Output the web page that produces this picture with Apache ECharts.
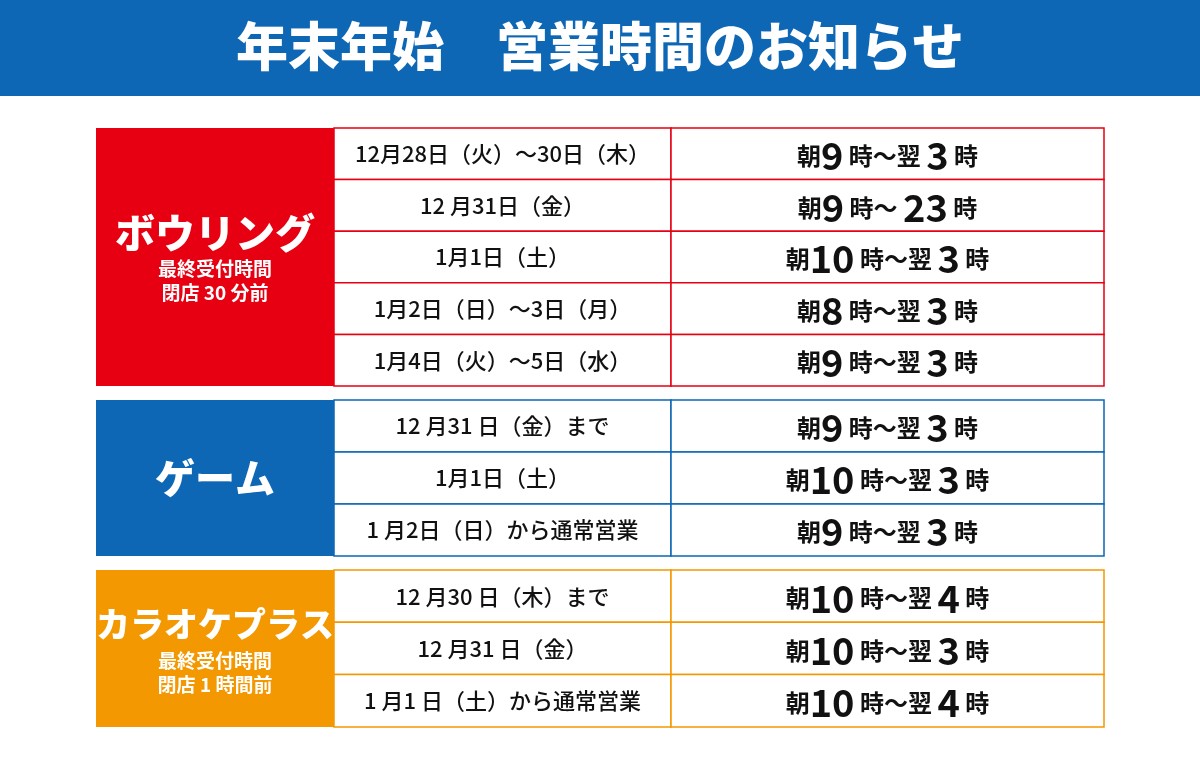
<!DOCTYPE html>
<html>
<head>
<meta charset="utf-8">
<script src="https://cdn.jsdelivr.net/npm/echarts@6/dist/echarts.min.js"></script>
<style>
  body { margin: 0; background: #fff; }
  #main { width: 1200px; height: 760px; }
</style>
</head>
<body>
<div id="main"></div>
<script>
var title = '年末年始　営業時間のお知らせ'
var sections = ['ボウリング', 'ゲーム', 'カラオケプラス']
var sectionNotes = [['最終受付時間', '閉店 30 分前'], [], ['最終受付時間', '閉店 1 時間前']]
var sectionColors = ['#e60012', '#0d67b5', '#f39800']
var dates = [
  ['12月28日（火）～30日（木）', '12 月31日（金）', '1月1日（土）', '1月2日（日）～3日（月）', '1月4日（火）～5日（水）'],
  ['12 月31 日（金）まで', '1月1日（土）', '1 月2日（日）から通常営業'],
  ['12 月30 日（木）まで', '12 月31 日（金）', '1 月1 日（土）から通常営業']
]
var openHours = [[9, 9, 10, 8, 9], [9, 10, 9], [10, 10, 10]]
var closeHours = [[3, 23, 3, 3, 3], [3, 3, 3], [4, 3, 4]]
var closeNextDay = [[true, false, true, true, true], [true, true, true], [true, true, true]]

var sectionTops = [128, 400, 570]
var rowH = [51.6, 52, 52.3]
var x0 = 96, x1 = 334, x2 = 671, x3 = 1104
var font = '"Noto Sans CJK JP", sans-serif'

function buildGraphic() {
  var g = []
  g.push({ type: 'rect', shape: { x: 0, y: 0, width: 1200, height: 96 }, style: { fill: '#0d67b5' } })
  g.push({ type: 'text', x: 600, y: 46, style: { text: title, fill: '#fff', font: '900 52px ' + font, align: 'center', verticalAlign: 'middle' } })

  for (var s = 0; s < sections.length; s++) {
    var sTop = sectionTops[s], n = dates[s].length, h = rowH[s] * n, c = sectionColors[s]
    g.push({ type: 'rect', shape: { x: x0, y: sTop, width: x1 - x0, height: h }, style: { fill: c } })
    var notes = sectionNotes[s]
    var cy = sTop + h / 2
    var big = s === 2 ? 34 : 40
    var titleY = notes.length ? cy - 24 : cy
    g.push({ type: 'text', x: (x0 + x1) / 2, y: titleY, style: { text: sections[s], fill: '#fff', font: '900 ' + big + 'px ' + font, align: 'center', verticalAlign: 'middle' } })
    for (var k = 0; k < notes.length; k++) {
      g.push({ type: 'text', x: (x0 + x1) / 2, y: titleY + 36 + k * 24, style: { text: notes[k], fill: '#fff', font: 'bold 19px ' + font, align: 'center', verticalAlign: 'middle' } })
    }
    for (var r = 0; r < n; r++) {
      var y = sTop + r * rowH[s]
      g.push({ type: 'rect', shape: { x: x1, y: y, width: x2 - x1, height: rowH[s] }, style: { fill: '#fff', stroke: c, lineWidth: 1.5 } })
      g.push({ type: 'rect', shape: { x: x2, y: y, width: x3 - x2, height: rowH[s] }, style: { fill: '#fff', stroke: c, lineWidth: 1.5 } })
      g.push({ type: 'text', x: (x1 + x2) / 2, y: y + rowH[s] / 2, style: { text: dates[s][r], fill: '#111', font: '500 22px ' + font, align: 'center', verticalAlign: 'middle' } })
      var mid = closeNextDay[s][r] ? ' 時〜翌 ' : ' 時〜 '
      g.push({ type: 'text', x: (x2 + x3) / 2, y: y + rowH[s] / 2 + 2, style: {
        text: '{a|朝}{b|' + openHours[s][r] + '}{a|' + mid + '}{b|' + closeHours[s][r] + '}{a| 時}',
        align: 'center', verticalAlign: 'middle',
        rich: {
          a: { fontSize: 24, fontWeight: 'bold', fontFamily: 'Noto Sans CJK JP', fill: '#111' },
          b: { fontSize: 38, fontWeight: 'bold', fontFamily: 'Noto Sans CJK JP', fill: '#111' }
        }
      } })
    }
  }
  return g
}

var chart = echarts.init(document.getElementById('main'))
chart.setOption({ animation: false, graphic: { elements: buildGraphic() } })
</script>
</body>
</html>
